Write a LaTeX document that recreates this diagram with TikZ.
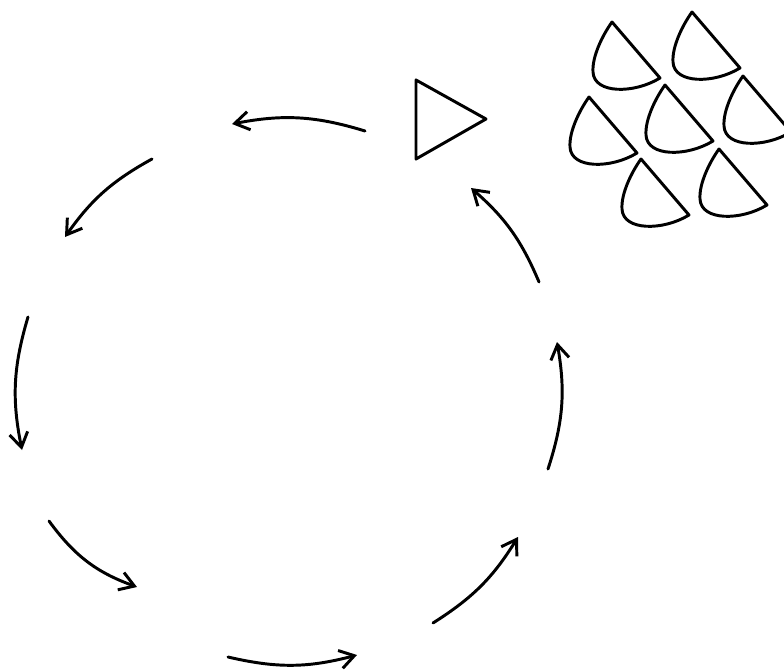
\documentclass[tikz,border=0pt]{standalone}
\usetikzlibrary{arrows.meta}

\begin{document}
\begin{tikzpicture}[
        x=0.025cm, y=-0.025cm,
        line width=2.1pt,
        line join=round,
        cyclearrow/.style={
            -{Straight Barb[length=3.6mm,width=4.6mm]},
            line cap=round
        },
        scoop/.pic={
            \draw (0,0) -- (48,56)
                .. controls (22,72) and (-18,72) .. (-19,50)
                .. controls (-20,35) and (-10,14) .. (0,0) -- cycle;
        }
    ]

    \useasboundingbox (0,0) rectangle (784,670);
    \clip (0,0) rectangle (784,670);

    % ends of the arrows round the cycle
    \coordinate (s1) at (365,131); \coordinate (e1) at (232,124);
    \coordinate (s2) at (152,159); \coordinate (e2) at (65,237);
    \coordinate (s3) at (28,317);  \coordinate (e3) at (22,450);
    \coordinate (s4) at (49,521);  \coordinate (e4) at (137,587);
    \coordinate (s5) at (228,657); \coordinate (e5) at (357,655);
    \coordinate (s6) at (433,623); \coordinate (e6) at (518,537);
    \coordinate (s7) at (548,469); \coordinate (e7) at (557,342);
    \coordinate (s8) at (539,282); \coordinate (e8) at (471,188);

    \draw[cyclearrow] (s1) to[bend right=14] (e1);
    \draw[cyclearrow] (s2) to[bend right=13] (e2);
    \draw[cyclearrow] (s3) to[bend right=14] (e3);
    \draw[cyclearrow] (s4) to[bend right=17] (e4);
    \draw[cyclearrow] (s5) to[bend right=14] (e5);
    \draw[cyclearrow] (s6) to[bend right=13] (e6);
    \draw[cyclearrow] (s7) to[bend right=14] (e7);
    \draw[cyclearrow] (s8) to[bend right=13] (e8);

    % triangle
    \draw (416,80) -- (416,159) -- (486,119) -- cycle;

    % scoops
    \pic at (612,22)  {scoop};
    \pic at (692,12)  {scoop};
    \pic at (589,97)  {scoop};
    \pic at (665,85)  {scoop};
    \pic at (743,76)  {scoop};
    \pic at (641,159) {scoop};
    \pic at (719,149) {scoop};

\end{tikzpicture}
\end{document}
